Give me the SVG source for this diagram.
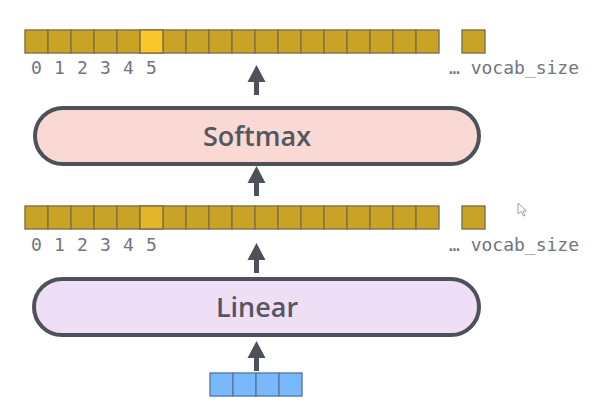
<svg xmlns="http://www.w3.org/2000/svg" width="614" height="413" viewBox="0 0 614 413">
<style>
.cell{fill:#c9a326;stroke:#7f7148;stroke-width:1.4}
.hi1{fill:#f9c72b}
.hi2{fill:#e2b52a}
.blue{fill:#79b8fb;stroke:#5a7a9e;stroke-width:1.4}
.idx{font-family:"DejaVu Sans Mono",monospace;font-size:18px;fill:#71757d;text-anchor:middle}
.vs{font-family:"DejaVu Sans Mono",monospace;font-size:18px;fill:#71757d;text-anchor:end}
.box{stroke:#4d5159;stroke-width:4}
.lbl{font-family:"Open Sans","Noto Sans",sans-serif;font-weight:600;font-size:27px;fill:#53575f;text-anchor:middle}
.arrow{fill:#4d5159}
</style>
<defs>
<g id="row18">
<rect class="cell" x="0" y="0" width="23" height="23"/>
<rect class="cell" x="23" y="0" width="23" height="23"/>
<rect class="cell" x="46" y="0" width="23" height="23"/>
<rect class="cell" x="69" y="0" width="23" height="23"/>
<rect class="cell" x="92" y="0" width="23" height="23"/>
<rect class="cell" x="115" y="0" width="23" height="23"/>
<rect class="cell" x="138" y="0" width="23" height="23"/>
<rect class="cell" x="161" y="0" width="23" height="23"/>
<rect class="cell" x="184" y="0" width="23" height="23"/>
<rect class="cell" x="207" y="0" width="23" height="23"/>
<rect class="cell" x="230" y="0" width="23" height="23"/>
<rect class="cell" x="253" y="0" width="23" height="23"/>
<rect class="cell" x="276" y="0" width="23" height="23"/>
<rect class="cell" x="299" y="0" width="23" height="23"/>
<rect class="cell" x="322" y="0" width="23" height="23"/>
<rect class="cell" x="345" y="0" width="23" height="23"/>
<rect class="cell" x="368" y="0" width="23" height="23"/>
<rect class="cell" x="391" y="0" width="23" height="23"/>
<rect class="cell" x="437" y="0" width="23" height="23"/>
</g>
<g id="labels">
<text class="idx" x="36.5" y="0">0</text>
<text class="idx" x="59.5" y="0">1</text>
<text class="idx" x="82.5" y="0">2</text>
<text class="idx" x="105.5" y="0">3</text>
<text class="idx" x="128.5" y="0">4</text>
<text class="idx" x="151.5" y="0">5</text>
<text class="vs" x="579" y="0">… vocab_size</text>
</g>
<path id="arr" d="M0,0 L9,17 L2.5,17 L2.5,30 L-2.5,30 L-2.5,17 L-9,17 Z"/>
</defs>

<g id="connectors" class="arrow">
<use href="#arr" x="256.5" y="65"/>
<use href="#arr" x="256.5" y="166"/>
<use href="#arr" x="256.5" y="243"/>
<use href="#arr" x="256.5" y="341"/>
</g>

<g id="output-probs">
<use href="#row18" x="25" y="30"/>
<rect class="cell hi1" x="140" y="30" width="23" height="23"/>
<use href="#labels" y="74"/>
</g>

<g id="softmax">
<rect class="box" x="35" y="108" width="444" height="56" rx="28" fill="#fad9d4"/>
<text class="lbl" x="257" y="145.5">Softmax</text>
</g>

<g id="logits">
<use href="#row18" x="25" y="206"/>
<rect class="cell hi2" x="140" y="206" width="23" height="23"/>
<use href="#labels" y="251"/>
</g>

<g id="linear">
<rect class="box" x="34" y="279" width="445" height="56" rx="28" fill="#eedff6"/>
<text class="lbl" x="257" y="316.5">Linear</text>
</g>

<g id="input">
<rect class="blue" x="210" y="373" width="23" height="23"/>
<rect class="blue" x="233" y="373" width="23" height="23"/>
<rect class="blue" x="256" y="373" width="23" height="23"/>
<rect class="blue" x="279" y="373" width="23" height="23"/>
</g>

<path d="M518,203 L518,214 L521,211.5 L523.5,216 L525,215.3 L522.8,211 L526.5,211 Z" fill="#ffffff" stroke="#9a9ea6" stroke-width="1"/>
</svg>
